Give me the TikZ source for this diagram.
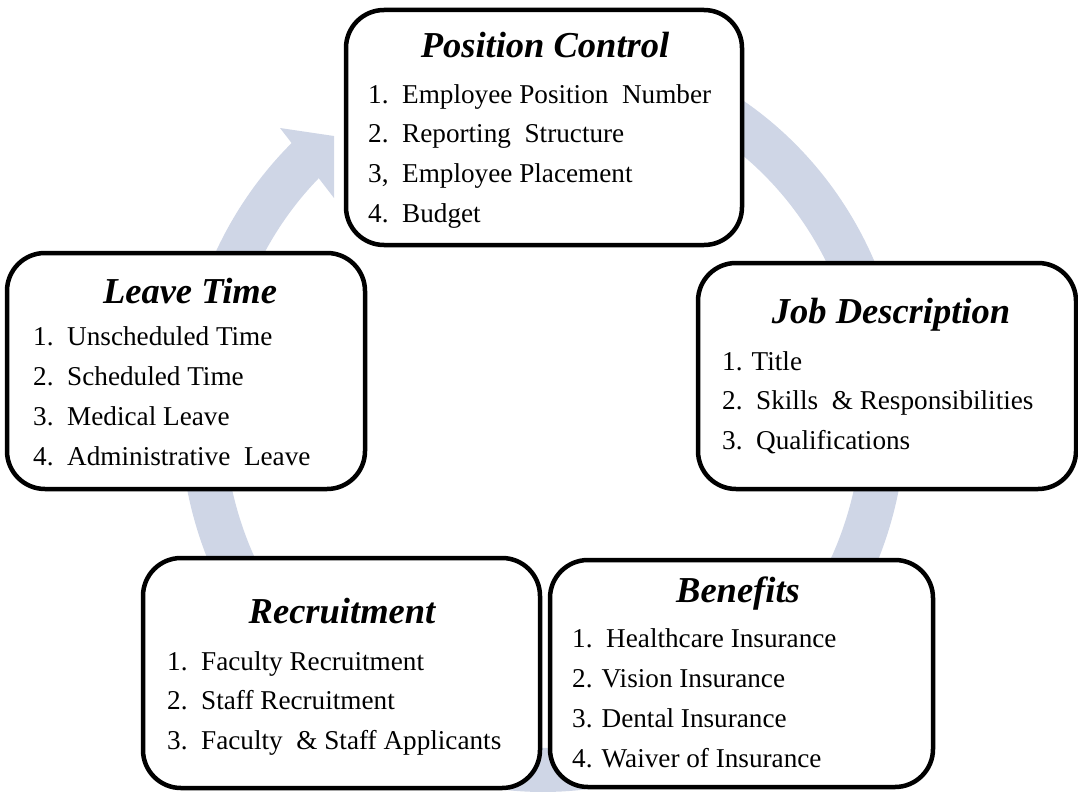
\documentclass[tikz,border=0pt]{standalone}
\usepackage{fontspec}
\setmainfont{Liberation Serif}
\definecolor{bandc}{RGB}{207,214,230}
\begin{document}
\begin{tikzpicture}[x=1pt,y=-1pt,
  box/.style={draw=black, line width=4.5pt, fill=white, rounded corners=38pt, inner sep=0pt},
  ttl/.style={font=\fontsize{36.5}{40}\selectfont\bfseries\itshape, anchor=base, inner sep=0pt},
  itm/.style={font=\fontsize{27.2}{40}\selectfont, anchor=base west, inner sep=0pt},
  band/.style={draw=bandc, line width=44pt},
  bandhead/.style={fill=bandc, draw=none}]
\useasboundingbox (0,0) rectangle (1078,792);
% circular arrow
\draw[band] plot[domain=-80:226.5, samples=300] ({543+341*cos(\x)}, {415+355*sin(\x)});
\coordinate (hb1) at (280,128);
\coordinate (htip) at (334,136);
\coordinate (hb2) at (334,198);
\fill[bandhead] (hb1) -- (htip) -- (hb2) -- cycle;
% boxes
\node[box, minimum width=396pt, minimum height=235pt] (pc) at (544,127.5) {};
\node[box, minimum width=358pt, minimum height=236pt] (lt) at (186,371) {};
\node[box, minimum width=378pt, minimum height=226pt] (jd) at (887,376) {};
\node[box, minimum width=397pt, minimum height=230pt] (rc) at (341.5,673) {};
\node[box, minimum width=383pt, minimum height=227pt] (bn) at (741.5,673.5) {};
% Position Control
\node[ttl] (pct) at (545,58) {Position Control};
\node[itm] (pc1) at (368,103) {1.\ \ Employee Position \ Number};
\node[itm] (pc2) at (368,142) {2.\ \ Reporting \ Structure};
\node[itm] (pc3) at (368,182) {3,\ \ Employee Placement};
\node[itm] (pc4) at (368,222) {4.\ \ Budget};
% Leave Time
\node[ttl] (ltt) at (190,303) {Leave Time};
\node[itm] (lt1) at (33,345) {1.\ \ Unscheduled Time};
\node[itm] (lt2) at (33,385) {2.\ \ Scheduled Time};
\node[itm] (lt3) at (33,425) {3.\ \ Medical Leave};
\node[itm] (lt4) at (33,465) {4.\ \ Administrative \ Leave};
% Job Description
\node[ttl] (jdt) at (891,323) {Job Description};
\node[itm] (jd1) at (722,370) {1. Title};
\node[itm] (jd2) at (722,409) {2.\ \ Skills \ \& Responsibilities};
\node[itm] (jd3) at (722,449) {3.\ \ Qualifications};
% Recruitment
\node[ttl] (rct) at (342,623) {Recruitment};
\node[itm] (rc1) at (167,670) {1.\ \ Faculty Recruitment};
\node[itm] (rc2) at (167,709) {2.\ \ Staff Recruitment};
\node[itm] (rc3) at (167,749) {3.\ \ Faculty \ \& Staff Applicants};
% Benefits
\node[ttl] (bnt) at (738,602) {Benefits};
\node[itm] (bn1) at (572,647) {1.\ \ Healthcare Insurance};
\node[itm] (bn2) at (572,687) {2. Vision Insurance};
\node[itm] (bn3) at (572,727) {3. Dental Insurance};
\node[itm] (bn4) at (572,767) {4. Waiver of Insurance};
\end{tikzpicture}
\end{document}
